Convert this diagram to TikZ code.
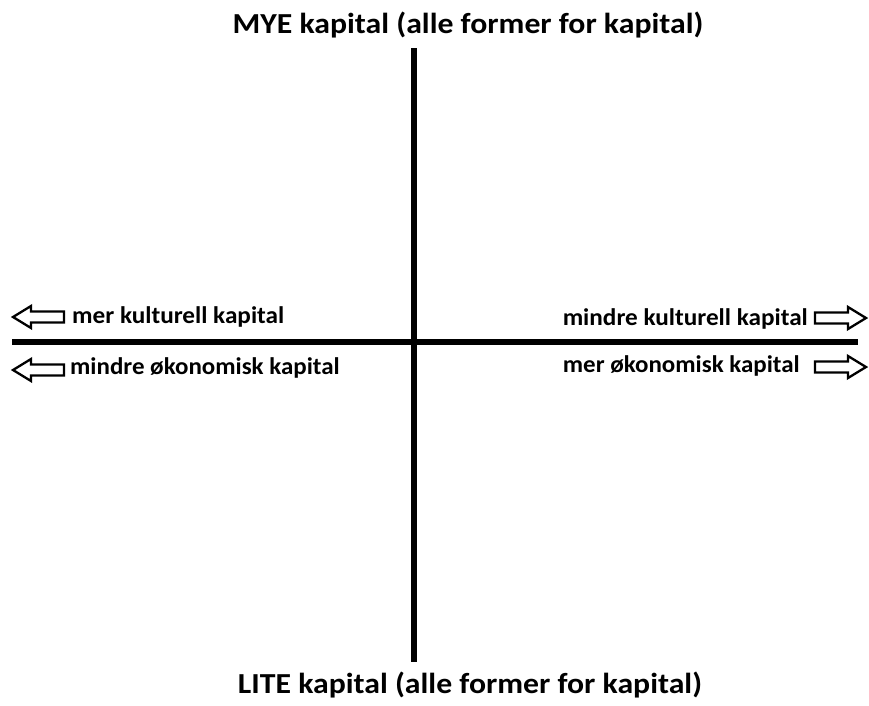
\documentclass[tikz,border=0pt]{standalone}
\usepackage{fontspec}
\setmainfont{Carlito}
\begin{document}
\begin{tikzpicture}[x=1pt,y=-1pt,
  axis/.style={line width=5.5pt},
  title/.style={font=\bfseries\fontsize{29}{32}\selectfont, inner sep=0pt, text=black},
  lbl/.style={font=\bfseries\fontsize{24}{27}\selectfont, inner sep=0pt, text=black},
  hollow/.style={draw=black, line width=2.3pt, line join=miter, fill=white}]
\useasboundingbox (0,0) rectangle (869,705);
\node[title, anchor=base] (top) at (468,33) {\scalebox{1.095}[1]{MYE kapital (alle former for kapital)}};
\node[title, anchor=base] (bot) at (470,693) {\scalebox{1.095}[1]{LITE kapital (alle former for kapital)}};
\coordinate (vt) at (414,48);
\coordinate (vb) at (414,662);
\coordinate (hl) at (12,342);
\coordinate (hr) at (858,342);
\draw[axis] (vt) -- (vb);
\draw[axis] (hl) -- (hr);
\node[lbl, anchor=base west] (l1) at (72,323) {\scalebox{1.05}[1]{mer kulturell kapital}};
\node[lbl, anchor=base west] (l2) at (70,374) {\scalebox{1.04}[1]{mindre økonomisk kapital}};
\node[lbl, anchor=base east] (r1) at (808,325) {\scalebox{1.05}[1]{mindre kulturell kapital}};
\node[lbl, anchor=base east] (r2) at (800,372) {\scalebox{1.04}[1]{mer økonomisk kapital}};
% left arrows
\foreach \yy in {317,370}{
  \draw[hollow] (13,\yy) -- (31,\yy-11) -- (31,\yy-5.5) -- (64,\yy-5.5) -- (64,\yy+5.5) -- (31,\yy+5.5) -- (31,\yy+11) -- cycle;
}
% right arrows
\foreach \yy in {318,367}{
  \draw[hollow] (866,\yy) -- (848,\yy-11) -- (848,\yy-5.5) -- (815,\yy-5.5) -- (815,\yy+5.5) -- (848,\yy+5.5) -- (848,\yy+11) -- cycle;
}
\end{tikzpicture}
\end{document}
